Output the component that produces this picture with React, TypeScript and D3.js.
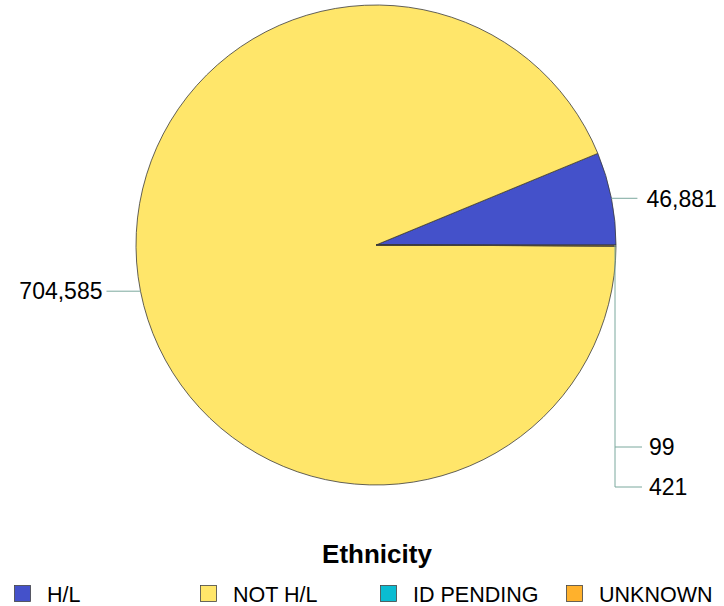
import React from "react";
import * as d3 from "d3";

const categories = ["H/L", "NOT H/L", "ID PENDING", "UNKNOWN"];
const values = [46881, 704585, 99, 421];
const colors = ["#4451CA", "#FFE66A", "#0ABCD2", "#FFB12C"];
const legendTitle = "Ethnicity";

const W = 724, H = 606;
const cx = 376, cy = 245, R = 240;
const fmt = d3.format(",");

export default function App() {
  const data = categories.map((c, i) => ({ c, v: values[i], col: colors[i] }));
  const pie = d3.pie<any>().sort(null).value((d) => d.v)
    .startAngle(Math.PI / 2).endAngle(Math.PI / 2 - 2 * Math.PI);
  const arcs = pie(data);
  const arc = d3.arc<any>().innerRadius(0).outerRadius(R);
  const leader = "#7BA89D";

  const labels = arcs.map((a, i) => {
    const mid = (a.startAngle + a.endAngle) / 2;
    const px = cx + R * Math.sin(mid);
    const py = cy - R * Math.cos(mid);
    return { a, mid, px, py, i };
  });

  const small = labels.filter((l) => l.a.data.v / d3.sum(values) < 0.01);
  const legendX = [14, 200, 380, 566];

  return (
    <svg width={W} height={H} style={{ position: "absolute", left: 0, top: 0 }}
      fontFamily="'Liberation Sans', Arial, sans-serif">
      <rect width={W} height={H} fill="#fff" />
      {arcs.map((a, i) => (
        <path key={i} d={arc(a) as string} transform={`translate(${cx},${cy})`}
          fill={a.data.col} stroke="#3a3a3a" strokeWidth={0.8} />
      ))}
      {labels.filter((l) => !small.includes(l)).map((l) => {
        const right = Math.sin(l.mid) > 0;
        const x2 = right ? l.px + 26 : l.px - 34;
        return (
          <g key={l.i}>
            <line x1={l.px} y1={l.py} x2={x2} y2={l.py} stroke={leader} strokeWidth={1} />
            <text x={right ? x2 + 9 : x2 - 4} y={l.py} dy="0.36em" fontSize={23}
              textAnchor={right ? "start" : "end"} fill="#000">{fmt(l.a.data.v)}</text>
          </g>
        );
      })}
      {small.length > 0 && (
        <line x1={cx + R - 1} y1={cy} x2={cx + R - 1} y2={447 + 40 * (small.length - 1)}
          stroke={leader} strokeWidth={1} />
      )}
      {small.map((l, k) => {
        const y = 447 + 40 * k;
        return (
          <g key={l.i}>
            <line x1={cx + R - 1} y1={y} x2={cx + R + 26} y2={y} stroke={leader} strokeWidth={1} />
            <text x={cx + R + 33} y={y} dy="0.36em" fontSize={23} fill="#000">{fmt(l.a.data.v)}</text>
          </g>
        );
      })}
      <text x={cx + 1} y={563} textAnchor="middle" fontSize={26} fontWeight="bold" fill="#000">{legendTitle}</text>
      {categories.map((c, i) => (
        <g key={c} transform={`translate(${legendX[i]},585)`}>
          <rect x={0.5} y={0.5} width={16} height={16} fill={colors[i]} stroke="#444" strokeWidth={0.8} />
          <text x={33} y={16.5} fontSize={21.5} fill="#000">{c}</text>
        </g>
      ))}
    </svg>
  );
}
